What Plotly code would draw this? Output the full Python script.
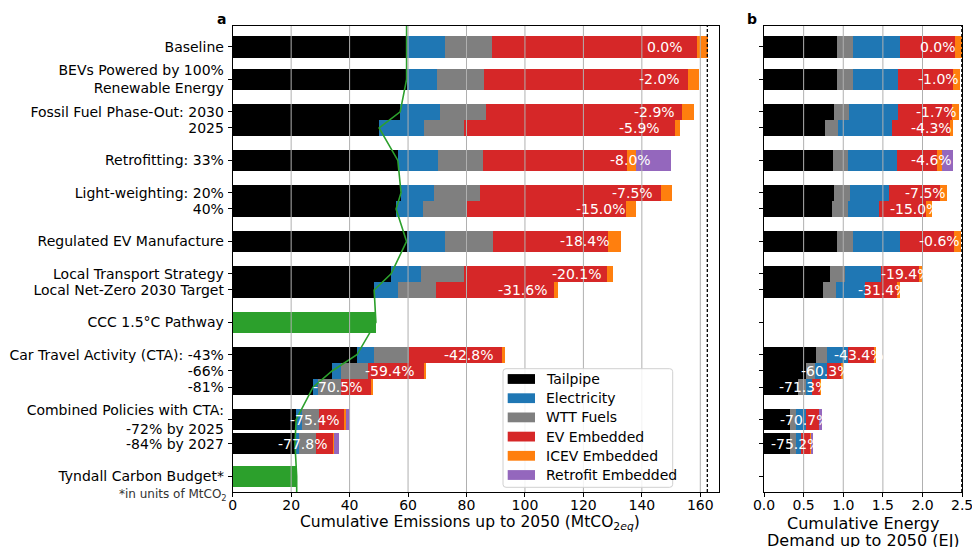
import plotly.graph_objects as go

# ---------------- data ----------------
categories = [
    "Baseline",
    "BEVs Powered by 100%<br>Renewable Energy",
    "Fossil Fuel Phase-Out: 2030",
    "2025",
    "Retrofitting: 33%",
    "Light-weighting: 20%",
    "40%",
    "Regulated EV Manufacture",
    "Local Transport Strategy",
    "Local Net-Zero 2030 Target",
    "CCC 1.5°C Pathway",
    "Car Travel Activity (CTA): -43%",
    "-66%",
    "-81%",
    "Combined Policies with CTA:<br>-72% by 2025",
    "-84% by 2027",
    "Tyndall Carbon Budget*",
]

# cumulative emissions up to 2050 (MtCO2eq) by source
tailpipe = [59.5, 59.5, 57.3, 50.1, 56.5, 57.6, 55.9, 59.5, 54.2, 48.4, None, 42.5, 34.0, 27.5, 21.7, 21.3, None]
electricity = [13.2, 10.4, 13.6, 15.4, 13.8, 11.3, 9.2, 13.2, 10.2, 8.2, None, 5.9, 3.1, 1.7, 2.0, 1.4, None]
wtt_fuels = [16.0, 16.1, 15.8, 13.7, 15.4, 15.7, 15.0, 16.4, 14.8, 13.0, None, 11.9, 9.2, 7.9, 5.8, 5.8, None]
ev_embedded = [69.9, 69.8, 67.1, 72.2, 49.2, 62.0, 54.5, 39.3, 48.6, 40.4, None, 31.9, 18.9, 10.4, 8.4, 5.9, None]
icev_embedded = [3.8, 3.7, 4.1, 1.4, 3.0, 3.7, 3.4, 4.3, 2.1, 1.2, None, 0.7, 0.7, 0.4, 0.7, 0.3, None]
retrofit_embedded = [None, None, None, None, 11.8, None, None, None, None, None, None, None, None, None, 1.4, 1.4, None]
carbon_budget = [None] * 10 + [49.0] + [None] * 5 + [21.9]
emission_change = ["0.0%", "-2.0%", "-2.9%", "-5.9%", "-8.0%", "-7.5%", "-15.0%", "-18.4%", "-20.1%",
                   "-31.6%", None, "-42.8%", "-59.4%", "-70.5%", "-75.4%", "-77.8%", None]

# cumulative energy demand up to 2050 (EJ) by source
e_tailpipe = [0.920, 0.920, 0.883, 0.769, 0.870, 0.883, 0.857, 0.920, 0.832, 0.744, None, 0.656, 0.526, 0.425, 0.328, 0.328, None]
e_wtt_fuels = [0.202, 0.202, 0.189, 0.164, 0.189, 0.201, 0.202, 0.202, 0.189, 0.164, None, 0.139, 0.116, 0.103, 0.076, 0.076, None]
e_electricity = [0.597, 0.572, 0.622, 0.681, 0.622, 0.492, 0.391, 0.597, 0.454, 0.366, None, 0.264, 0.153, 0.075, 0.126, 0.063, None]
e_ev_embedded = [0.690, 0.690, 0.676, 0.737, 0.505, 0.645, 0.596, 0.674, 0.486, 0.400, None, 0.329, 0.187, 0.105, 0.164, 0.122, None]
e_icev_embedded = [0.087, 0.088, 0.084, 0.038, 0.063, 0.088, 0.076, 0.088, 0.051, 0.038, None, 0.025, 0.009, 0.008, 0.004, 0.003, None]
e_retrofit_embedded = [None, None, None, None, 0.132, None, None, None, None, None, None, None, None, None, 0.033, 0.027, None]
energy_change = ["0.0%", "-1.0%", "-1.7%", "-4.3%", "-4.6%", "-7.5%", "-15.0%", "-0.6%", "-19.4%",
                 "-31.4%", None, "-43.4%", "-60.3%", "-71.3%", "-70.7%", "-75.2%", None]

# ---------------- layout helpers ----------------
W, H = 972, 547
FONT = "DejaVu Sans"
ROW_POS = [0, 2, 4, 5, 7, 9, 10, 12, 14, 15, 17, 19, 20, 21, 23, 24.5, 26.5]
BAR_W = [1.3, 1.3, 1.0, 1.0, 1.3, 1.0, 1.0, 1.3, 1.0, 1.0, 1.3, 1.0, 1.0, 1.0, 1.3, 1.3, 1.3]
Y_RANGE = [27.47, -1.296]

COLORS = {
    "Tailpipe": "#000000",
    "Electricity": "#1f77b4",
    "WTT Fuels": "#7f7f7f",
    "EV Embedded": "#d62728",
    "ICEV Embedded": "#ff7f0e",
    "Retrofit Embedded": "#9467bd",
}
GREEN = "#2ca02c"


def fx(p):
    return p / W


def fy(p):
    return 1 - p / H


def total(parts, i):
    vals = [p[i] for p in parts if p[i] is not None]
    return sum(vals) if vals else None


fig = go.Figure()

left_parts = [
    ("Tailpipe", tailpipe),
    ("Electricity", electricity),
    ("WTT Fuels", wtt_fuels),
    ("EV Embedded", ev_embedded),
    ("ICEV Embedded", icev_embedded),
    ("Retrofit Embedded", retrofit_embedded),
]
right_parts = [
    ("Tailpipe", e_tailpipe),
    ("WTT Fuels", e_wtt_fuels),
    ("Electricity", e_electricity),
    ("EV Embedded", e_ev_embedded),
    ("ICEV Embedded", e_icev_embedded),
    ("Retrofit Embedded", e_retrofit_embedded),
]

for name, vals in left_parts:
    fig.add_trace(go.Bar(
        y=ROW_POS, x=vals, width=BAR_W, orientation="h", name=name,
        marker=dict(color=COLORS[name], line=dict(width=0)),
        showlegend=False, xaxis="x", yaxis="y", hoverinfo="skip",
    ))
fig.add_trace(go.Bar(
    y=ROW_POS, x=carbon_budget, width=BAR_W, orientation="h", name="Budget",
    marker=dict(color=GREEN, line=dict(width=0)),
    showlegend=False, xaxis="x", yaxis="y", hoverinfo="skip",
))

for name, vals in right_parts:
    fig.add_trace(go.Bar(
        y=ROW_POS, x=vals, width=BAR_W, orientation="h", name=name,
        marker=dict(color=COLORS[name], line=dict(width=0)),
        showlegend=False, xaxis="x2", yaxis="y2", hoverinfo="skip",
    ))

# tailpipe / budget pathway line running through the rows
path_x = [t if t is not None else b for t, b in zip(tailpipe, carbon_budget)]
line_x = [path_x[0]] + path_x + [path_x[-1]]
line_y = [Y_RANGE[1]] + ROW_POS + [Y_RANGE[0]]
fig.add_trace(go.Scatter(
    x=line_x, y=line_y, mode="lines", line=dict(color=GREEN, width=1.6),
    showlegend=False, xaxis="x", yaxis="y", hoverinfo="skip",
))

shapes = []
annotations = []

y0d, y1d = fy(492), fy(26)

# vertical grid drawn over the bars
for g in [20, 40, 60, 80, 100, 120, 140, 160]:
    shapes.append(dict(type="line", xref="x", yref="paper", x0=g, x1=g, y0=y0d, y1=y1d,
                       line=dict(color="#b0b0b0", width=1), layer="above"))
for g in [0.5, 1.0, 1.5, 2.0]:
    shapes.append(dict(type="line", xref="x2", yref="paper", x0=g, x1=g, y0=y0d, y1=y1d,
                       line=dict(color="#b0b0b0", width=1), layer="above"))

# baseline totals as dashed reference lines
base_left = total([p for _, p in left_parts], 0)
base_right = total([p for _, p in right_parts], 0)
shapes.append(dict(type="line", xref="x", yref="paper", x0=base_left, x1=base_left, y0=y0d, y1=y1d,
                   line=dict(color="black", width=1.3, dash="3px,2px"), layer="above"))
shapes.append(dict(type="line", xref="x2", yref="paper", x0=base_right, x1=base_right, y0=y0d, y1=y1d,
                   line=dict(color="black", width=1.3, dash="3px,2px"), layer="above"))

# percentage change labels
for i, lab in enumerate(emission_change):
    if lab is None:
        continue
    t = total([p for _, p in left_parts], i)
    annotations.append(dict(xref="x", yref="y", x=t - 20.9, y=ROW_POS[i], text=lab, showarrow=False,
                            xanchor="left", yanchor="middle", borderpad=0,
                            font=dict(family=FONT, size=14, color="white")))
for i, lab in enumerate(energy_change):
    if lab is None:
        continue
    t = total([p for _, p in right_parts], i)
    annotations.append(dict(xref="x2", yref="y2", x=t - 0.543, y=ROW_POS[i], text=lab, showarrow=False,
                            xanchor="left", yanchor="middle", borderpad=0,
                            font=dict(family=FONT, size=14, color="white")))

# legend box
lx0, lx1, ly0, ly1 = 503, 672.7, 368.7, 487.3
r = 3
path = (f"M {fx(lx0 + r)},{fy(ly0)} L {fx(lx1 - r)},{fy(ly0)} Q {fx(lx1)},{fy(ly0)} {fx(lx1)},{fy(ly0 + r)} "
        f"L {fx(lx1)},{fy(ly1 - r)} Q {fx(lx1)},{fy(ly1)} {fx(lx1 - r)},{fy(ly1)} "
        f"L {fx(lx0 + r)},{fy(ly1)} Q {fx(lx0)},{fy(ly1)} {fx(lx0)},{fy(ly1 - r)} "
        f"L {fx(lx0)},{fy(ly0 + r)} Q {fx(lx0)},{fy(ly0)} {fx(lx0 + r)},{fy(ly0)} Z")
shapes.append(dict(type="path", xref="paper", yref="paper", path=path,
                   fillcolor="rgba(255,255,255,0.85)", line=dict(color="#d0d0d0", width=1), layer="above"))
for k, name in enumerate(COLORS):
    cy = 379 + k * 19.2
    shapes.append(dict(type="rect", xref="paper", yref="paper",
                       x0=fx(507.7), x1=fx(535), y0=fy(cy + 4.9), y1=fy(cy - 4.9),
                       fillcolor=COLORS[name], line=dict(width=0), layer="above"))
    annotations.append(dict(xref="paper", yref="paper", x=fx(545), y=fy(cy), text=name, showarrow=False,
                            xanchor="left", yanchor="middle", borderpad=0,
                            font=dict(family=FONT, size=14, color="black")))

# panel letters, axis titles and footnote
annotations += [
    dict(xref="paper", yref="paper", x=fx(228), y=fy(19), text="<b>a</b>", showarrow=False,
         xanchor="right", yanchor="middle", font=dict(family=FONT, size=14, color="black")),
    dict(xref="paper", yref="paper", x=fx(759), y=fy(19), text="<b>b</b>", showarrow=False,
         xanchor="right", yanchor="middle", font=dict(family=FONT, size=14, color="black")),
    dict(xref="paper", yref="paper", x=fx(470), y=fy(523),
         text="Cumulative Emissions up to 2050 (MtCO<sub>2<i>eq</i></sub>)", showarrow=False,
         xanchor="center", yanchor="middle", font=dict(family=FONT, size=15.5, color="black")),
    dict(xref="paper", yref="paper", x=fx(863), y=fy(523), text="Cumulative Energy", showarrow=False,
         xanchor="center", yanchor="middle", font=dict(family=FONT, size=16, color="black")),
    dict(xref="paper", yref="paper", x=fx(863), y=fy(540), text="Demand up to 2050 (EJ)", showarrow=False,
         xanchor="center", yanchor="middle", font=dict(family=FONT, size=16, color="black")),
    dict(xref="paper", yref="paper", x=fx(229), y=fy(495), text="*in units of MtCO<sub>2</sub>",
         showarrow=False, xanchor="right", yanchor="middle",
         font=dict(family=FONT, size=12, color="#333333")),
]

axis_common = dict(
    showline=True, linecolor="black", linewidth=1, mirror=True,
    ticks="outside", ticklen=4, tickcolor="black", tickwidth=1,
    showgrid=False, zeroline=False, automargin=False, ticklabeloverflow="allow",
    tickfont=dict(family=FONT, size=14, color="black"),
)

fig.update_layout(
    width=W, height=H,
    margin=dict(l=0, r=0, t=0, b=0, autoexpand=False),
    paper_bgcolor="white", plot_bgcolor="white",
    barmode="stack", bargap=0,
    font=dict(family=FONT, size=14, color="black"),
    showlegend=False,
    xaxis=dict(domain=[fx(232.7), fx(719.3)], range=[0, 166.5], anchor="y", ticklabelstandoff=-4,
               tickvals=[0, 20, 40, 60, 80, 100, 120, 140, 160], **axis_common),
    yaxis=dict(domain=[y0d, y1d], range=Y_RANGE, anchor="x", ticklabelstandoff=1,
               tickvals=ROW_POS, ticktext=categories, **axis_common),
    xaxis2=dict(domain=[fx(764), fx(962.3)], range=[0, 2.502], anchor="y2", ticklabelstandoff=-4,
                tickvals=[0, 0.5, 1.0, 1.5, 2.0, 2.5],
                ticktext=["0.0", "0.5", "1.0", "1.5", "2.0", "2.5"], **axis_common),
    yaxis2=dict(domain=[y0d, y1d], range=Y_RANGE, anchor="x2",
                tickvals=ROW_POS, showticklabels=False, **axis_common),
    shapes=shapes,
    annotations=annotations,
)

fig.write_html("out.html")
